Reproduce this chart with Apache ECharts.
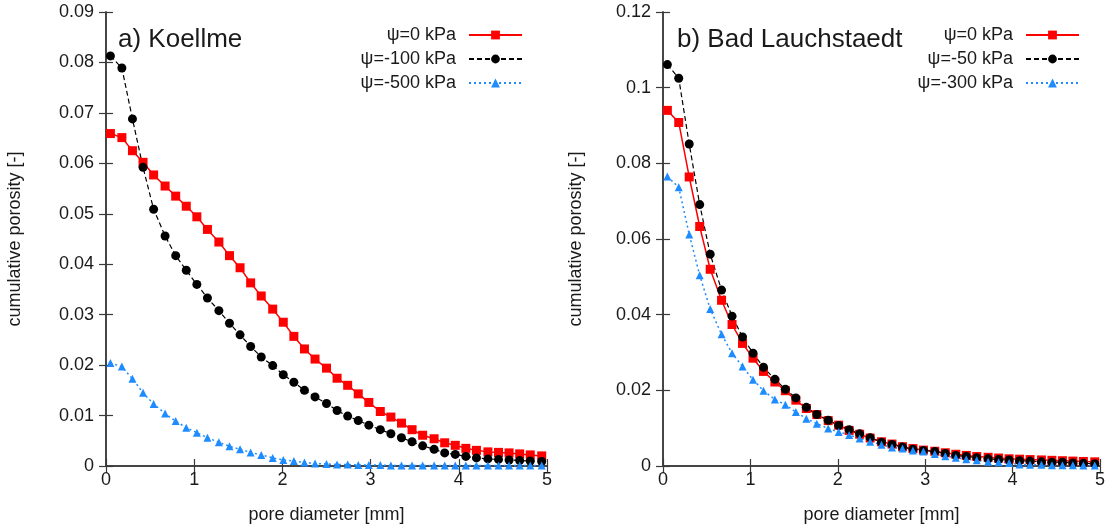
<!DOCTYPE html>
<html>
<head>
<meta charset="utf-8">
<script src="https://cdn.jsdelivr.net/npm/echarts@6/dist/echarts.min.js"></script>
<style>
  html, body { margin: 0; padding: 0; background: #fff; }
  #main { width: 1108px; height: 529px; }
</style>
</head>
<body>
<div id="main"></div>
<script>
// pore diameter [mm] of each point (same bins in both panels)
const poreDiam = [0.05, 0.18, 0.30, 0.42, 0.54, 0.67, 0.79, 0.91, 1.03, 1.15, 1.28, 1.40, 1.52, 1.64, 1.76,
  1.89, 2.01, 2.13, 2.25, 2.37, 2.50, 2.62, 2.74, 2.86, 2.98, 3.11, 3.23, 3.35, 3.47, 3.59, 3.72,
  3.84, 3.96, 4.08, 4.20, 4.33, 4.45, 4.57, 4.69, 4.81, 4.94];

// a) Koellme
const koellmeNames = ['ψ=0 kPa', 'ψ=-100 kPa', 'ψ=-500 kPa'];
const koellme0 = [0.0659, 0.0651, 0.0625, 0.0602, 0.0577, 0.0555, 0.0535, 0.0515, 0.0494, 0.0469, 0.0444,
  0.0417, 0.0393, 0.0363, 0.0337, 0.0311, 0.0285, 0.0257, 0.0232, 0.0212, 0.0194, 0.0174, 0.0160, 0.0143,
  0.0126, 0.0108, 0.0097, 0.0085, 0.0072, 0.0061, 0.0054, 0.0046, 0.0041, 0.0035, 0.0031, 0.0028, 0.0027,
  0.0026, 0.0024, 0.0022, 0.0020];
const koellme100 = [0.0813, 0.0789, 0.0688, 0.0592, 0.0509, 0.0456, 0.0417, 0.0388, 0.0360, 0.0333, 0.0308,
  0.0283, 0.0260, 0.0237, 0.0216, 0.0199, 0.0181, 0.0166, 0.0150, 0.0137, 0.0124, 0.0110, 0.0099, 0.0090,
  0.0081, 0.0072, 0.0064, 0.0056, 0.0048, 0.0040, 0.0033, 0.0026, 0.0023, 0.0019, 0.0016, 0.0014, 0.0013,
  0.0012, 0.0011, 0.0010, 0.0009];
const koellme500 = [0.0204, 0.0197, 0.0173, 0.0145, 0.0123, 0.0104, 0.0089, 0.0076, 0.0066, 0.0056, 0.0047,
  0.0039, 0.0033, 0.0027, 0.0022, 0.0016, 0.0012, 0.0010, 0.0007, 0.0005, 0.0004, 0.0003, 0.0003, 0.0002,
  0.0002, 0.0002, 0.0001, 0.0001, 0.0001, 0.0001, 0.0001, 0.0001, 0.0001, 0.0001, 0.0001, 0.0001, 0.0001,
  0.0001, 0.0001, 0.0001, 0.0001];

// b) Bad Lauchstaedt
const badNames = ['ψ=0 kPa', 'ψ=-50 kPa', 'ψ=-300 kPa'];
const bad0 = [0.0940, 0.0908, 0.0764, 0.0633, 0.0520, 0.0438, 0.0374, 0.0324, 0.0285, 0.0250, 0.0222,
  0.0199, 0.0174, 0.0152, 0.0136, 0.0120, 0.0108, 0.0094, 0.0084, 0.0074, 0.0064, 0.0058, 0.0051, 0.0046,
  0.0042, 0.0039, 0.0035, 0.0031, 0.0028, 0.0025, 0.0023, 0.0021, 0.0019, 0.0018, 0.0017, 0.0016, 0.0015,
  0.0014, 0.0013, 0.0012, 0.0011];
const bad50 = [0.1061, 0.1025, 0.0851, 0.0691, 0.0560, 0.0465, 0.0396, 0.0341, 0.0298, 0.0261, 0.0229,
  0.0203, 0.0180, 0.0155, 0.0136, 0.0121, 0.0107, 0.0096, 0.0085, 0.0075, 0.0063, 0.0057, 0.0050, 0.0044,
  0.0041, 0.0038, 0.0033, 0.0028, 0.0025, 0.0022, 0.0019, 0.0017, 0.0016, 0.0014, 0.0013, 0.0011, 0.0010,
  0.0010, 0.0008, 0.0007, 0.0006];
const bad300 = [0.0765, 0.0737, 0.0612, 0.0504, 0.0415, 0.0348, 0.0298, 0.0263, 0.0228, 0.0199, 0.0176,
  0.0162, 0.0143, 0.0125, 0.0112, 0.0099, 0.0090, 0.0082, 0.0073, 0.0064, 0.0056, 0.0049, 0.0046, 0.0041,
  0.0038, 0.0032, 0.0026, 0.0022, 0.0018, 0.0015, 0.0011, 0.0010, 0.0008, 0.0004, 0.0003, 0.0003, 0.0002,
  0.0002, 0.0002, 0.0001, 0.0001];

const panelTitles = ['a) Koellme', 'b) Bad Lauchstaedt'];
const yMax = [0.09, 0.12];
const yStep = [0.01, 0.02];

const FONT = '"Liberation Sans", Arial, sans-serif';
const FRAME = '#3a3a3a';

const chart = echarts.init(document.getElementById('main'));

function pairs(ys) {
  return ys.map((y, i) => [poreDiam[i], y]);
}

// gnuplot-like line styles: solid squares, dashed circles, dotted triangles
const styles = [
  { color: '#ff0000', symbol: 'rect', size: 9, type: 'solid', width: 1.5 },
  { color: '#000000', symbol: 'circle', size: 9, type: [5, 3], width: 1.2 },
  { color: '#1e8cff', symbol: 'triangle', size: 8, type: [2, 3], width: 1.5 }
];

function makeSeries(name, ys, k, g) {
  const s = styles[k];
  return {
    name: name,
    type: 'line',
    xAxisIndex: g * 2,
    yAxisIndex: g * 2,
    data: pairs(ys),
    symbol: s.symbol,
    symbolSize: s.size,
    showAllSymbol: true,
    clip: false,
    animation: false,
    itemStyle: { color: s.color },
    lineStyle: { color: s.color, width: s.width, type: s.type }
  };
}

const grids = [
  { left: 106, top: 12, width: 441, height: 456 },
  { left: 663, top: 12, width: 441, height: 456 }
];

const xAxes = [];
const yAxes = [];
[0, 1].forEach(g => {
  const tick = { show: true, inside: true, length: 7, lineStyle: { color: FRAME, width: 1.2 } };
  const line = { show: true, lineStyle: { color: FRAME, width: 1.5 } };
  xAxes.push({
    type: 'value', gridIndex: g, min: 0, max: 5, interval: 1, position: 'bottom',
    axisLine: line, axisTick: tick, splitLine: { show: false },
    axisLabel: { color: '#1a1a1a', fontSize: 18, fontFamily: FONT, margin: 5 },
    name: 'pore diameter [mm]', nameLocation: 'middle', nameGap: 40,
    nameTextStyle: { color: '#1a1a1a', fontSize: 18, fontFamily: FONT }
  });
  xAxes.push({
    type: 'value', gridIndex: g, min: 0, max: 5, interval: 1, position: 'top',
    axisLine: line, axisTick: tick, splitLine: { show: false }, axisLabel: { show: false }
  });
  yAxes.push({
    type: 'value', gridIndex: g, min: 0, max: yMax[g], interval: yStep[g], position: 'left',
    axisLine: line, axisTick: tick, splitLine: { show: false },
    axisLabel: { color: '#1a1a1a', fontSize: 18, fontFamily: FONT, margin: 12 },
    name: 'cumulative porosity [-]', nameLocation: 'middle', nameGap: g === 0 ? 82 : 78,
    nameTextStyle: { color: '#1a1a1a', fontSize: 18, fontFamily: FONT }
  });
  yAxes.push({
    type: 'value', gridIndex: g, min: 0, max: yMax[g], interval: yStep[g], position: 'right',
    axisLine: line, axisTick: tick, splitLine: { show: false }, axisLabel: { show: false }
  });
});

const series = [
  makeSeries(koellmeNames[0], koellme0, 0, 0),
  makeSeries(koellmeNames[1], koellme100, 1, 0),
  makeSeries(koellmeNames[2], koellme500, 2, 0),
  makeSeries(badNames[0], bad0, 0, 1),
  makeSeries(badNames[1], bad50, 1, 1),
  makeSeries(badNames[2], bad300, 2, 1)
];

// one legend per entry so texts are right aligned against the key
const legendTops = [26, 50, 74];
const legendRight = [585, 28];
const legends = [];
[koellmeNames, badNames].forEach((names, g) => {
  names.forEach((n, k) => {
    legends.push({
      data: [n], right: legendRight[g], top: legendTops[k], align: 'right', orient: 'vertical',
      padding: 0, itemWidth: 53, itemHeight: 11, selectedMode: false,
      textStyle: { color: '#1a1a1a', fontSize: 18, fontFamily: FONT, padding: [0, 8, 0, 0] }
    });
  });
});

chart.setOption({
  animation: false,
  backgroundColor: '#fff',
  title: panelTitles.map((t, g) => ({
    text: t, left: g === 0 ? 118 : 677, top: 27, padding: 0,
    textStyle: { color: '#1a1a1a', fontSize: 26, fontWeight: 'normal', fontFamily: FONT }
  })),
  legend: legends,
  grid: grids,
  xAxis: xAxes,
  yAxis: yAxes,
  series: series
});
</script>
</body>
</html>
